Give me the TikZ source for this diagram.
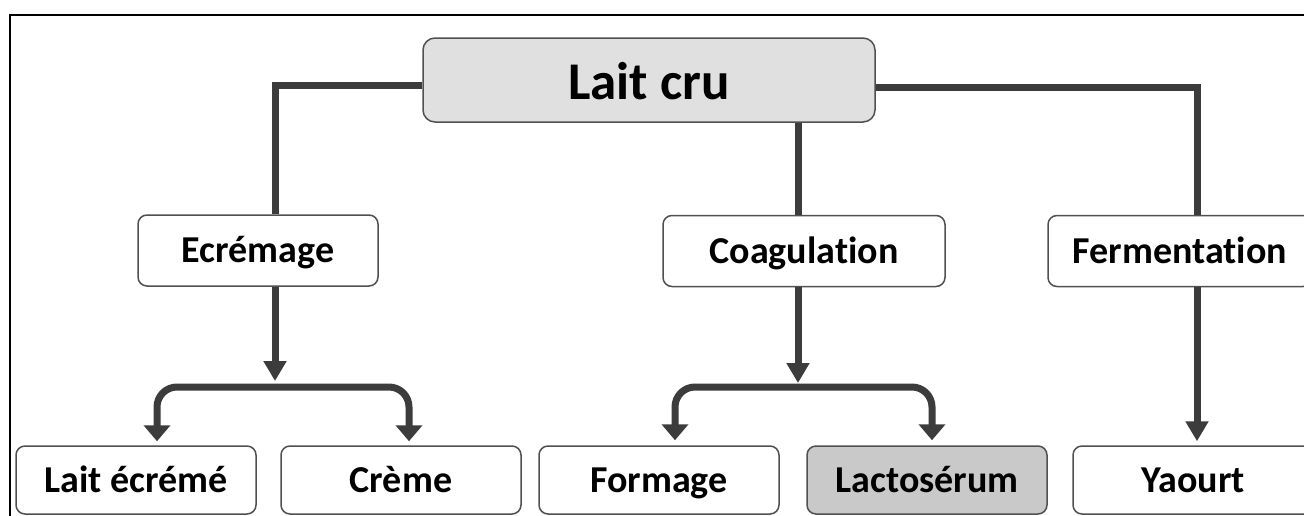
\documentclass[tikz,border=0pt]{standalone}
\usepackage{fontspec}
\setmainfont{Carlito}[Ligatures={NoCommon}]
\usetikzlibrary{arrows.meta}
\definecolor{lineC}{HTML}{3C3C3C}
\definecolor{edgeC}{HTML}{505050}
\definecolor{rootC}{HTML}{E0E0E0}
\definecolor{wheyC}{HTML}{C9C9C9}
\tikzset{
  box/.style={draw=edgeC, line width=1.5pt, rounded corners=9pt, fill=white,
    minimum width=240pt, inner sep=0pt, font=\fontsize{38}{40}\selectfont\bfseries,
    text height=26pt, text depth=2pt},
  rootbox/.style={box, fill=rootC, rounded corners=12pt, minimum width=452pt,
    minimum height=84pt, font=\fontsize{53}{56}\selectfont\bfseries,
    text height=40pt, text depth=2pt},
  midbox/.style={box, minimum height=71pt},
  leafbox/.style={box, minimum height=68pt},
  link/.style={draw=lineC, line width=7pt},
  arrow/.style={link, -{Triangle[width=22pt,length=20pt]}},
  fork/.style={link, rounded corners=20pt, -{Triangle[width=26pt,length=16pt]}}
}
\begin{document}
\begin{tikzpicture}[x=1pt,y=-1pt]
  \useasboundingbox (0,0) rectangle (1304,515);
  \clip (0,0) rectangle (1304,515);
  \fill[white] (0,0) rectangle (1304,515);
  % outer frame
  \draw[black, line width=2pt] (10,540) -- (10,15) -- (1330,15);

  % nodes
  \node[rootbox] (lait) at (649,80) {Lait cru};
  \node[midbox] (ecr) at (258,250.5) {Ecrémage};
  \node[midbox, minimum width=282pt] (coag) at (804,251) {Coagulation};
  \node[midbox, minimum width=264pt] (ferm) at (1180,251) {Fermentation};
  \node[leafbox] (laitec) at (136,480) {Lait écrémé};
  \node[leafbox] (creme) at (401,480) {Crème};
  \node[leafbox] (form) at (659,480) {Formage};
  \node[leafbox, fill=wheyC] (lacto) at (927,480) {Lactosérum};
  \node[leafbox, minimum width=240pt] (yaourt) at (1193,480) {Yaourt};

  % junction points of the connectors
  \coordinate (jl) at (275,85);
  \coordinate (jr) at (1197,87);
  \coordinate (jc) at (798,0);
  \coordinate (tipE) at (275,381);
  \coordinate (forkE) at (275,387);
  \coordinate (tipC) at (798,383);
  \coordinate (forkC) at (798,387);
  \coordinate (bLE) at (157,0);
  \coordinate (bCr) at (409,0);
  \coordinate (bFo) at (675,0);
  \coordinate (bLa) at (932,0);

  % connectors from the root
  \draw[link] (lait.west |- jl) -| (ecr.north -| jl);
  \draw[link] (lait.east |- jr) -| (ferm.north -| jr);
  \draw[link] (lait.south -| jc) -- (coag.north -| jc);

  % Ecrémage branch
  \draw[arrow] (ecr.south -| jl) -- (tipE);
  \draw[fork, shorten >=4pt] (forkE) -| (laitec.north -| bLE);
  \draw[fork, shorten >=4pt] (forkE) -| (creme.north -| bCr);

  % Coagulation branch
  \draw[arrow] (coag.south -| jc) -- (tipC);
  \draw[fork, shorten >=5pt] (forkC) -| (form.north -| bFo);
  \draw[fork, shorten >=5pt] (forkC) -| (lacto.north -| bLa);

  % Fermentation branch
  \draw[arrow, shorten >=4pt] (ferm.south -| jr) -- (yaourt.north -| jr);
\end{tikzpicture}
\end{document}
